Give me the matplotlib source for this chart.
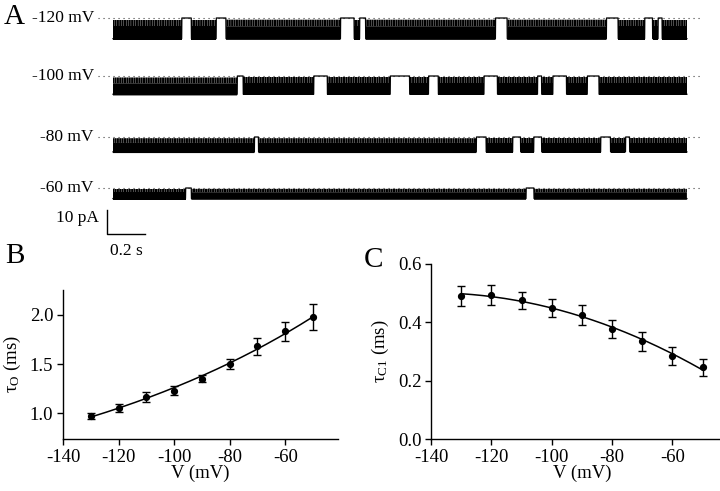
import numpy as np
import matplotlib
matplotlib.use("Agg")
import matplotlib.pyplot as plt

plt.rcParams.update({
    "font.family": ["Liberation Serif", "DejaVu Serif"],
    "mathtext.fontset": "custom",
    "mathtext.rm": "Liberation Serif",
    "mathtext.it": "Liberation Serif:italic",
    "font.size": 13,
    "axes.linewidth": 1.0,
    "axes.unicode_minus": False,
    "hatch.linewidth": 1.5,
})

# ---------------- data ----------------
# panel A: single-channel records
trace_labels = ["-120 mV", "-100 mV", "-80 mV", "-60 mV"]
open_current = [-8.6, -7.6, -6.2, -4.4]      # pA, open level
trace_duration = 3.0                          # s
# long closures (start, end) in s
closures_120 = [(0.36, 0.41), (0.54, 0.59), (1.19, 1.26), (1.29, 1.32),
                (2.00, 2.06), (2.58, 2.64), (2.78, 2.82), (2.85, 2.87)]
closures_100 = [(0.65, 0.68), (1.05, 1.12), (1.45, 1.55), (1.65, 1.70),
                (1.94, 2.01), (2.22, 2.24), (2.30, 2.37), (2.48, 2.54)]
closures_80 = [(0.74, 0.76), (1.90, 1.95), (2.09, 2.13), (2.20, 2.24),
               (2.55, 2.60), (2.68, 2.70)]
closures_60 = [(0.38, 0.41), (2.16, 2.20)]
long_closures = [closures_120, closures_100, closures_80, closures_60]

# panels B and C
voltage = [-130, -120, -110, -100, -90, -80, -70, -60, -50]
tau_open = [0.975, 1.055, 1.165, 1.23, 1.35, 1.50, 1.68, 1.83, 1.975]
tau_open_err = [0.032, 0.042, 0.047, 0.045, 0.037, 0.055, 0.084, 0.10, 0.135]
tau_c1 = [0.49, 0.495, 0.476, 0.45, 0.426, 0.378, 0.335, 0.285, 0.246]
tau_c1_err = [0.033, 0.034, 0.029, 0.031, 0.035, 0.031, 0.033, 0.031, 0.030]

# ---------------- layout (pixels) ----------------
W, H = 720, 491
PX_PER_S = 191.3
PX_PER_PA = 2.4
T0_PX = 113
A_H = 262
row_px = [18, 76, 137, 188]

fig = plt.figure(figsize=(W / 100, H / 100), dpi=100)

# ---------------- panel A ----------------
axA = fig.add_axes([0, 1 - A_H / H, 1, A_H / H])
axA.set_xlim(-T0_PX / PX_PER_S, (W - T0_PX) / PX_PER_S)
axA.set_ylim(-A_H / PX_PER_PA, 0)
axA.axis("off")

t = np.linspace(0, trace_duration, 3001)
for lab, amp, clos, rp in zip(trace_labels, open_current, long_closures, row_px):
    base = -rp / PX_PER_PA
    closed = np.zeros_like(t, dtype=bool)
    for s, e in clos:
        closed |= (t >= s) & (t <= e)
    level = np.where(closed, 0.0, amp) + base
    axA.plot([-0.08, trace_duration + 0.07], [base, base], color="0.25",
             lw=0.8, ls=(0, (1, 3.5)))
    axA.plot(t, level, color="k", lw=0.9)
    axA.fill_between(t, base + amp - 0.5, base + amp * 0.4, where=~closed,
                     color="k", lw=0)
    # brief flickers toward the closed level
    axA.fill_between(t, base + amp * 0.4, base + amp * 0.08, where=~closed,
                     facecolor="none", edgecolor="k", hatch="|" * 7, lw=0)
    axA.text(-0.1, base, lab, ha="right", va="center", fontsize=12.5)

# scale bar: 10 pA, 0.2 s
x0 = (107 - T0_PX) / PX_PER_S
yb = -234 / PX_PER_PA
axA.plot([x0, x0, x0 + 0.2], [yb + 10, yb, yb], color="k", lw=1)
axA.text(x0 - 0.04, yb + 6.7, "10 pA", ha="right", va="center", fontsize=12.5)
axA.text(x0 + 0.1, yb - 7.2, "0.2 s", ha="center", va="center", fontsize=12.5)

fig.text(4 / W, 1 - 17 / H, "A", fontsize=21, va="center", ha="left")


def style_axes(ax):
    for side in ("top", "right"):
        ax.spines[side].set_visible(False)
    ax.tick_params(direction="out", length=4, width=1, labelsize=13.5, pad=3)
    ax.set_xticks([-140, -120, -100, -80, -60])
    ax.set_xlabel("V (mV)", fontsize=13.5, labelpad=-1)


vfit = np.linspace(-130, -50, 200)

# ---------------- panel B ----------------
axB = fig.add_axes([63 / W, 52 / H, 275 / W, 149 / H])
axB.errorbar(voltage, tau_open, yerr=tau_open_err, fmt="o", color="k",
             ms=4.2, capsize=3.2, elinewidth=1, capthick=1)
pB = np.polyfit(voltage, np.log(tau_open), 1)
axB.plot(vfit, np.exp(np.polyval(pB, vfit)), color="k", lw=1.1)
axB.set_xlim(-140, -41)
axB.set_ylim(0.74, 2.25)
axB.set_yticks([1.0, 1.5, 2.0])
axB.set_yticklabels(["1.0", "1.5", "2.0"])
style_axes(axB)
axB.set_ylabel(r"τ$_\mathrm{O}$ (ms)", fontsize=13.5, labelpad=5)
fig.text(5 / W, 1 - 256 / H, "B", fontsize=21, va="center", ha="left")

# ---------------- panel C ----------------
axC = fig.add_axes([431 / W, 52 / H, 301.7 / W, 175 / H])
axC.errorbar(voltage, tau_c1, yerr=tau_c1_err, fmt="o", color="k",
             ms=4.2, capsize=3.2, elinewidth=1, capthick=1)
pC = np.polyfit(voltage, tau_c1, 2)
axC.plot(vfit, np.polyval(pC, vfit), color="k", lw=1.1)
axC.set_xlim(-140, -40)
axC.set_ylim(0, 0.6)
axC.set_yticks([0.0, 0.2, 0.4, 0.6])
axC.set_yticklabels(["0.0", "0.2", "0.4", "0.6"])
style_axes(axC)
axC.set_ylabel(r"τ$_\mathrm{C1}$ (ms)", fontsize=13.5, labelpad=5)
fig.text(364 / W, 1 - 260 / H, "C", fontsize=21, va="center", ha="left")

fig.savefig("out.png", dpi=100)
